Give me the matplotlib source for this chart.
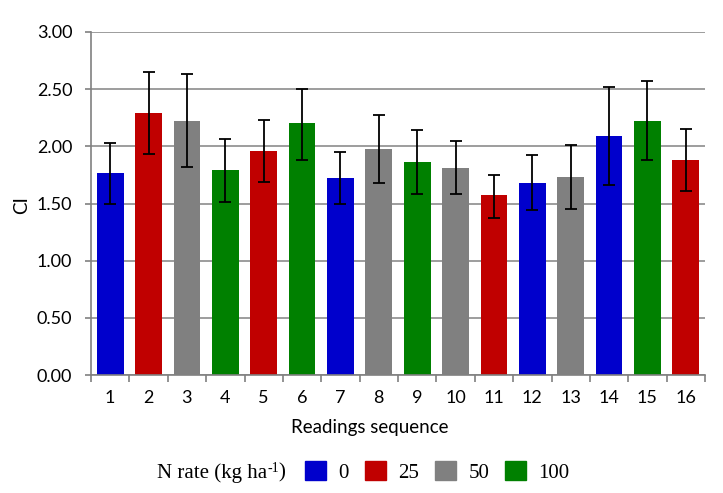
import matplotlib.pyplot as plt
from matplotlib.patches import Patch

# readings 1..16, CI value with lower / upper error bar ends
readings = [str(i) for i in range(1, 17)]
ci = [1.77, 2.29, 2.22, 1.79, 1.96, 2.20, 1.72, 1.98,
      1.86, 1.81, 1.57, 1.68, 1.73, 2.09, 2.22, 1.88]
err_low = [1.50, 1.93, 1.82, 1.51, 1.69, 1.88, 1.50, 1.68,
           1.58, 1.58, 1.37, 1.44, 1.45, 1.66, 1.88, 1.61]
err_high = [2.03, 2.65, 2.63, 2.06, 2.23, 2.50, 1.95, 2.27,
            2.14, 2.05, 1.75, 1.92, 2.01, 2.52, 2.57, 2.15]
n_rate = [0, 25, 50, 100, 25, 100, 0, 50, 100, 50, 25, 0, 50, 0, 100, 25]

rate_levels = [0, 25, 50, 100]
rate_colors = {0: '#0000CC', 25: '#C00000', 50: '#808080', 100: '#008000'}

W, H = 723, 493
fig = plt.figure(figsize=(W / 100, H / 100), dpi=100)
ax = fig.add_axes([91 / W, 1 - 375 / H, (705 - 91) / W, (375 - 32) / H])

x = list(range(len(readings)))
yerr = [[v - lo for v, lo in zip(ci, err_low)],
        [hi - v for v, hi in zip(ci, err_high)]]
ax.bar(x, ci, width=0.7, color=[rate_colors[r] for r in n_rate], zorder=2)
ax.errorbar(x, ci, yerr=yerr, fmt='none', ecolor='black', elinewidth=1.3,
            capsize=4, capthick=1.3, zorder=3)

ax.set_xlim(-0.5, len(readings) - 0.5)
ax.set_ylim(0, 3)
ax.set_yticks([0, 0.5, 1, 1.5, 2, 2.5, 3])
ax.set_yticklabels(['%.2f' % v for v in ax.get_yticks()])
ax.set_xticks(x)
ax.set_xticklabels(readings)
ax.set_xticks([i - 0.5 for i in range(len(readings) + 1)], minor=True)
ax.tick_params(axis='x', which='major', length=0, pad=11)
ax.tick_params(axis='x', which='minor', length=5, color='#808080', width=1.2)
ax.tick_params(axis='y', length=4.5, color='#808080', width=1.2, pad=9)
ax.tick_params(labelsize=13)
for lab in ax.get_xticklabels() + ax.get_yticklabels():
    lab.set_family('Lato')

ax.yaxis.grid(True, color='#8c8c8c', linewidth=1.2, zorder=0)
ax.set_axisbelow(True)
for s in ['top', 'right']:
    ax.spines[s].set_visible(False)
for s in ['left', 'bottom']:
    ax.spines[s].set_color('#808080')
    ax.spines[s].set_linewidth(1.2)

fig.text(370 / W, 1 - 427 / H, 'Readings sequence', family='Lato', fontsize=13.5,
         ha='center', va='center')
fig.text(22 / W, 1 - 205 / H, 'CI', family='Lato', fontsize=13.5, rotation=90,
         ha='center', va='center')

# legend label with Word-style superscript
serif = 'Liberation Serif'
t1 = fig.text(157 / W, 1 - 473 / H, 'N rate (kg ha', family=serif, fontsize=15,
              va='center', ha='left')
fig.canvas.draw()
r = fig.canvas.get_renderer()
bb = t1.get_window_extent(r)
t2 = fig.text(bb.x1 / W, 1 - 468 / H, '-1', family=serif, fontsize=10,
              va='center', ha='left')
bb2 = t2.get_window_extent(r)
fig.text(bb2.x1 / W, 1 - 473 / H, ')', family=serif, fontsize=15,
         va='center', ha='left')

handles = [Patch(facecolor=rate_colors[k], edgecolor=rate_colors[k]) for k in rate_levels]
fig.legend(handles, [str(k) for k in rate_levels], ncol=4, frameon=False,
           loc='center left', bbox_to_anchor=(305 / W, 1 - 472 / H),
           prop={'family': serif, 'size': 15}, borderpad=0, borderaxespad=0,
           handlelength=1.0, handleheight=1.03, columnspacing=0.77, handletextpad=0.6)

fig.savefig('out.png', dpi=100)
